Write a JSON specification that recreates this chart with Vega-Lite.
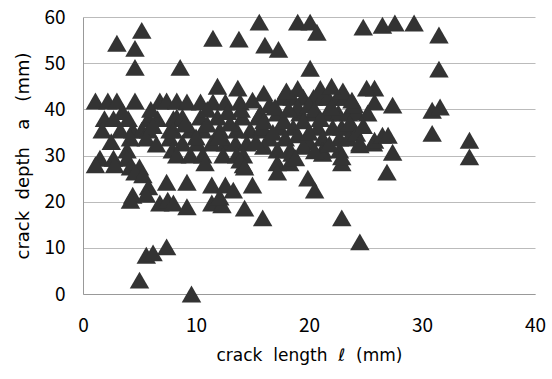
{
  "$schema": "https://vega.github.io/schema/vega-lite/v6.json",
  "width": 452,
  "height": 277,
  "autosize": {"type": "none"},
  "padding": {"left": 83, "top": 17, "right": 17, "bottom": 85},
  "background": "white",
  "config": {
    "view": {"stroke": null},
    "font": "Noto Sans CJK JP"
  },
  "datasets": {
    "pts": [
      {"l":3.0,"a":54.3},{"l":5.2,"a":57.1},{"l":4.6,"a":53.2},{"l":4.6,"a":49.1},{"l":8.6,"a":49.1},{"l":11.5,"a":55.4},{"l":13.8,"a":55.2},{"l":15.6,"a":58.9},{"l":16.1,"a":53.9},{"l":17.3,"a":53},{"l":19.0,"a":58.9},{"l":20.1,"a":58.9},{"l":20.7,"a":56.7},{"l":20.1,"a":48.9},{"l":24.8,"a":57.8},{"l":26.5,"a":58.2},{"l":27.6,"a":58.7},{"l":29.3,"a":58.7},{"l":31.5,"a":56.1},{"l":31.5,"a":48.7},
      {"l":1.1,"a":41.8},{"l":2.2,"a":41.8},{"l":3.0,"a":41.8},{"l":4.6,"a":41.8},{"l":6.8,"a":41.8},{"l":7.4,"a":41.8},{"l":8.3,"a":41.8},
      {"l":1.9,"a":38},{"l":2.7,"a":38},{"l":4.0,"a":38},{"l":5.8,"a":38},{"l":6.6,"a":38},{"l":8.0,"a":38},
      {"l":1.7,"a":35.5},{"l":3.3,"a":35.5},{"l":4.4,"a":35.5},{"l":5.2,"a":35.5},{"l":5.8,"a":35.5},{"l":7.7,"a":35.5},
      {"l":4.2,"a":33.8},{"l":5.6,"a":33.8},{"l":7.7,"a":33.8},
      {"l":3.9,"a":31.2},{"l":7.9,"a":31.2},
      {"l":1.5,"a":29.4},{"l":2.7,"a":29.4},{"l":3.9,"a":29.4},
      {"l":1.1,"a":28},{"l":2.8,"a":28},{"l":4.2,"a":27.5},{"l":5.0,"a":27.5},{"l":4.6,"a":26.4},{"l":5.3,"a":25.8},
      {"l":7.4,"a":24.2},{"l":5.8,"a":23.2},{"l":4.4,"a":21.4},{"l":5.6,"a":21.6},{"l":4.2,"a":20.3},{"l":6.8,"a":19.7},{"l":7.5,"a":20.3},{"l":8.0,"a":19.7},{"l":9.2,"a":18.9},{"l":9.2,"a":24.2},
      {"l":5.6,"a":8.4},{"l":6.2,"a":8.9},{"l":7.4,"a":10.2},{"l":5.0,"a":3},{"l":9.6,"a":0},
      {"l":9.2,"a":41.6},{"l":10.4,"a":41.6},{"l":11.5,"a":41.6},{"l":12.6,"a":41.6},{"l":13.9,"a":41.6},{"l":11.9,"a":45},{"l":13.7,"a":44.6},
      {"l":8.3,"a":38.3},{"l":8.8,"a":38.3},{"l":10.4,"a":38.3},{"l":11.9,"a":38.3},{"l":14.1,"a":38.3},{"l":15.5,"a":38.3},
      {"l":8.0,"a":35.5},{"l":9.5,"a":35.5},{"l":10.6,"a":35.5},{"l":12.1,"a":35.5},{"l":13.6,"a":35.5},{"l":14.8,"a":35.5},{"l":15.7,"a":35.5},
      {"l":8.8,"a":32.7},{"l":10.1,"a":32.7},{"l":11.4,"a":32.7},{"l":12.6,"a":32.7},{"l":13.5,"a":32.7},{"l":14.5,"a":32.7},
      {"l":8.3,"a":30.1},{"l":9.5,"a":30.1},{"l":10.6,"a":30.1},{"l":12.4,"a":30.1},{"l":13.6,"a":30.1},{"l":14.2,"a":30.1},
      {"l":10.8,"a":28.4},{"l":14.2,"a":28},{"l":13.9,"a":29},{"l":14.3,"a":27.5},
      {"l":11.4,"a":23.6},{"l":12.6,"a":23.6},{"l":13.3,"a":22.5},{"l":15.0,"a":23.6},{"l":11.4,"a":19.7},{"l":11.9,"a":20},{"l":12.3,"a":19.3},{"l":14.3,"a":18.6},{"l":15.9,"a":16.5},{"l":12.1,"a":21},
      {"l":17.7,"a":42.6},{"l":18.5,"a":42.6},{"l":19.5,"a":42.6},{"l":20.4,"a":42.6},{"l":21.2,"a":42.6},{"l":21.7,"a":42.6},{"l":22.5,"a":42.6},{"l":23.2,"a":42.6},
      {"l":15.7,"a":39.2},{"l":17.2,"a":39.2},{"l":19.2,"a":39.2},{"l":20.4,"a":39.2},{"l":21.6,"a":39.2},{"l":22.6,"a":39.2},{"l":23.5,"a":39.2},
      {"l":15.9,"a":36.1},{"l":17.4,"a":36.1},{"l":18.6,"a":36.1},{"l":20.8,"a":36.1},{"l":22.1,"a":36.1},{"l":22.9,"a":36.1},{"l":23.9,"a":36.1},
      {"l":16.5,"a":33.8},{"l":17.9,"a":33.8},{"l":21.2,"a":33.8},{"l":22.7,"a":33.8},{"l":23.5,"a":33.8},
      {"l":17.2,"a":31.2},{"l":18.3,"a":31.2},{"l":21.2,"a":31.2},{"l":22.7,"a":31.2},
      {"l":17.2,"a":28.4},{"l":18.3,"a":28.4},{"l":22.9,"a":28.4},{"l":22.9,"a":29.7},{"l":21.2,"a":30.5},{"l":18.5,"a":30.5},
      {"l":19.9,"a":25.1},{"l":20.5,"a":22.5},{"l":17.2,"a":26.4},{"l":22.9,"a":16.5},{"l":24.5,"a":11.3},
      {"l":24.5,"a":32.3},{"l":25.7,"a":32.7},
      {"l":25.8,"a":44.6},{"l":25.1,"a":44.6},{"l":25.8,"a":41.6},{"l":27.4,"a":40.9},{"l":24.2,"a":39.4},{"l":25.2,"a":39.2},{"l":23.6,"a":37},{"l":24.2,"a":34.8},{"l":24.5,"a":32.7},{"l":25.8,"a":33.3},{"l":26.5,"a":34.4},{"l":27.0,"a":34.4},{"l":27.4,"a":30.7},{"l":26.9,"a":26.4},{"l":30.9,"a":39.8},{"l":31.6,"a":40.5},{"l":30.9,"a":34.8},{"l":34.2,"a":33.3},{"l":34.2,"a":29.7},
      {"l":19.0,"a":40.5},{"l":20.0,"a":41},{"l":16.0,"a":37.5},{"l":19.0,"a":34.5},{"l":20.0,"a":33},{"l":24.0,"a":41},{"l":23.0,"a":44},{"l":14.0,"a":40},{"l":16.5,"a":41},{"l":17.0,"a":40.5},
      {"l":15,"a":42},{"l":16,"a":43.5},{"l":18,"a":44},{"l":19,"a":44.5},{"l":21,"a":44.5},{"l":22,"a":45},{"l":20.5,"a":40},{"l":21,"a":38},{"l":19.5,"a":37.5},{"l":17.8,"a":37.5},{"l":16.8,"a":35},{"l":19.5,"a":32},{"l":20.5,"a":31},{"l":21.8,"a":32.5},{"l":18.8,"a":29.5},{"l":16,"a":32},{"l":15.3,"a":33},{"l":13,"a":37},{"l":12,"a":34},{"l":10,"a":34},{"l":9,"a":36.8},{"l":11,"a":36.8},{"l":11,"a":40},{"l":12.8,"a":39.5},{"l":6,"a":40},{"l":3.5,"a":39.5},{"l":2.5,"a":33},{"l":6.5,"a":32.5},{"l":6.2,"a":36.5},{"l":23.8,"a":42},{"l":24.8,"a":36.5},{"l":22,"a":40.5},{"l":20,"a":35},{"l":18.2,"a":40}
    ]
  },
  "layer": [
    {
      "data": {"name": "pts"},
      "mark": {"type": "point", "shape": "triangle-up", "filled": true, "color": "#333333", "opacity": 1, "size": 380},
      "encoding": {
        "x": {"field": "l", "type": "quantitative", "scale": {"domain": [0, 40]},
          "axis": {"values": [0, 10, 20, 30, 40], "grid": false, "title": "crack\u00a0\u00a0length\u00a0\u00a0ℓ\u00a0\u00a0(mm)", "titleFont": "DejaVu Sans", "titleFontWeight": "normal", "titleFontSize": 17, "titleColor": "black", "titlePadding": 12, "labelFontSize": 19, "labelColor": "black", "labelPadding": 22, "domainColor": "#999999", "ticks": false, "labelFlush": false}},
        "y": {"field": "a", "type": "quantitative", "scale": {"domain": [0, 60]},
          "axis": {"values": [0, 10, 20, 30, 40, 50, 60], "grid": true, "gridColor": "#bbbbbb", "title": "crack\u00a0\u00a0depth\u00a0\u00a0\u00a0a\u00a0\u00a0\u00a0(mm)", "titleFont": "DejaVu Sans", "titleFontWeight": "normal", "titleFontSize": 18, "titleColor": "black", "titlePadding": 11, "labelFontSize": 19, "labelColor": "black", "labelPadding": 18, "ticks": false, "domainColor": "#999999"}}
      }
    },
    {
      "mark": {"type": "rule", "color": "black", "strokeWidth": 2.5},
      "encoding": {"y": {"datum": 60}}
    },
    {
      "mark": {"type": "rule", "color": "black", "strokeWidth": 2.5},
      "encoding": {"x": {"datum": 40}}
    }
  ]
}
